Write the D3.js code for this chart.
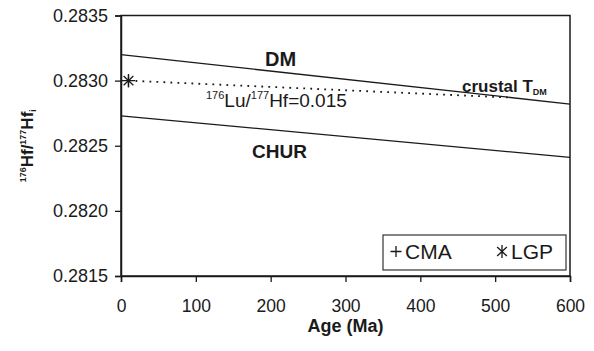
<!DOCTYPE html>
<html>
<head>
<meta charset="utf-8">
<script src="https://cdn.jsdelivr.net/npm/d3@7"></script>
<style>
  body { margin: 0; background: #fff; }
  svg { display: block; font-family: "Liberation Sans", Arial, sans-serif; }
</style>
</head>
<body>
<svg id="chart" width="594" height="351"></svg>
<script>
"use strict";

// values
const AGE_TICKS = [0, 100, 200, 300, 400, 500, 600];
const HF_TICKS = [0.2815, 0.2820, 0.2825, 0.2830, 0.2835];

const DM_AGE = [0, 600];
const DM_HF = [0.28320, 0.28282];
const CHUR_AGE = [0, 600];
const CHUR_HF = [0.28273, 0.28241];
const LUHF_AGE = [10, 520];        // 176Lu/177Hf = 0.015 growth line
const LUHF_HF = [0.28300, 0.28287];

const CMA_AGE = [10];
const CMA_HF = [0.28300];
const LGP_AGE = [10];
const LGP_HF = [0.28300];

const LEGEND_LABELS = ["CMA", "LGP"];

const MARGIN = { LEFT: 121, RIGHT: 570, TOP: 15.5, BOTTOM: 276 };
const INK = "#1a1a1a";

const svg = d3.select("#chart");

const x = d3.scaleLinear().domain([0, 600]).range([MARGIN.LEFT, MARGIN.RIGHT]);
const y = d3.scaleLinear().domain([0.2815, 0.2835]).range([MARGIN.BOTTOM, MARGIN.TOP]);

const toPoints = (ages, hfs) => ages.map((a, i) => [a, hfs[i]]);
const line = d3.line().x(d => x(d[0])).y(d => y(d[1]));

// frame
svg.append("rect")
  .attr("x", MARGIN.LEFT).attr("y", MARGIN.TOP)
  .attr("width", MARGIN.RIGHT - MARGIN.LEFT).attr("height", MARGIN.BOTTOM - MARGIN.TOP)
  .attr("fill", "none").attr("stroke", INK).attr("stroke-width", 1.5);

// axes
const xAxis = svg.append("g")
  .attr("transform", `translate(0,${MARGIN.BOTTOM})`)
  .call(d3.axisBottom(x).tickValues(AGE_TICKS).tickSize(6).tickPadding(18).tickFormat(d3.format("d")));
const yAxis = svg.append("g")
  .attr("transform", `translate(${MARGIN.LEFT},0)`)
  .call(d3.axisLeft(y).tickValues(HF_TICKS).tickSize(6).tickPadding(7).tickFormat(d3.format(".4f")));

[xAxis, yAxis].forEach(g => {
  g.select(".domain").attr("stroke", INK).attr("stroke-width", 1.5);
  g.selectAll(".tick line").attr("stroke", INK).attr("stroke-width", 1.3);
  g.selectAll(".tick text").attr("fill", INK).attr("font-size", 18)
    .attr("font-family", "Liberation Sans, Arial, sans-serif");
});
// put x tick labels on their baseline, as in the figure
xAxis.selectAll(".tick text").attr("dy", null).attr("y", 35.5).attr("font-size", 17.5);

// evolution lines
svg.append("path").datum(toPoints(DM_AGE, DM_HF))
  .attr("d", line).attr("fill", "none").attr("stroke", INK).attr("stroke-width", 1.3);
svg.append("path").datum(toPoints(CHUR_AGE, CHUR_HF))
  .attr("d", line).attr("fill", "none").attr("stroke", INK).attr("stroke-width", 1.3);
svg.append("path").datum(toPoints(LUHF_AGE, LUHF_HF))
  .attr("d", line).attr("fill", "none").attr("stroke", INK)
  .attr("stroke-width", 1.8).attr("stroke-dasharray", "1.8,5.2");

// markers
function plus(g, cx, cy, r) {
  g.append("path").attr("d", `M${cx - r},${cy}H${cx + r}M${cx},${cy - r}V${cy + r}`)
    .attr("stroke", INK).attr("stroke-width", 1.3).attr("fill", "none");
}
function asterisk(g, cx, cy, r) {
  const dx = r * 0.75, dy = r * 0.7;
  g.append("path")
    .attr("d", `M${cx},${cy - r}V${cy + r}M${cx - dx},${cy - dy}L${cx + dx},${cy + dy}M${cx - dx},${cy + dy}L${cx + dx},${cy - dy}`)
    .attr("stroke", INK).attr("stroke-width", 1.3).attr("fill", "none");
}

const marks = svg.append("g");
toPoints(CMA_AGE, CMA_HF).forEach(d => plus(marks, x(d[0]), y(d[1]), 6.5));
toPoints(LGP_AGE, LGP_HF).forEach(d => asterisk(marks, x(d[0]), y(d[1]), 6.5));

// line labels
svg.append("text").attr("x", 265).attr("y", 66)
  .attr("font-size", 20).attr("font-weight", "bold").attr("fill", INK).text("DM");
svg.append("text").attr("x", 252).attr("y", 158)
  .attr("font-size", 19).attr("font-weight", "bold").attr("fill", INK).text("CHUR");

const ratio = svg.append("text").attr("x", 206).attr("y", 107).attr("font-size", 19).attr("fill", INK);
ratio.append("tspan").attr("font-size", 11).attr("dy", -8).text("176");
ratio.append("tspan").attr("dy", 8).text("Lu/");
ratio.append("tspan").attr("font-size", 11).attr("dy", -8).text("177");
ratio.append("tspan").attr("dy", 8).text("Hf=0.015");

const tdm = svg.append("text").attr("x", 462).attr("y", 92)
  .attr("font-size", 17).attr("font-weight", "bold").attr("fill", INK);
tdm.append("tspan").text("crustal T");
tdm.append("tspan").attr("font-size", 9).attr("dy", 3).text("DM");

// axis titles
svg.append("text").attr("x", (MARGIN.LEFT + MARGIN.RIGHT) / 2).attr("y", 331.5)
  .attr("text-anchor", "middle").attr("font-size", 18).attr("font-weight", "bold")
  .attr("fill", INK).text("Age (Ma)");

const yTitle = svg.append("text")
  .attr("transform", `translate(33,${(MARGIN.TOP + MARGIN.BOTTOM) / 2}) rotate(-90)`)
  .attr("text-anchor", "middle").attr("font-size", 17).attr("font-weight", "bold").attr("fill", INK);
yTitle.append("tspan").attr("font-size", 9).attr("dy", -7).text("176");
yTitle.append("tspan").attr("dy", 7).text("Hf/");
yTitle.append("tspan").attr("font-size", 9).attr("dy", -7).text("177");
yTitle.append("tspan").attr("dy", 7).text("Hf");
yTitle.append("tspan").attr("font-size", 9).attr("dy", 3).text("i");

// legend
const legend = svg.append("g");
legend.append("rect").attr("x", 383).attr("y", 235).attr("width", 183).attr("height", 35)
  .attr("fill", "#fff").attr("stroke", "#333").attr("stroke-width", 1.2);
plus(legend, 396, 251.5, 5.5);
asterisk(legend, 502, 251.5, 6.5);
legend.append("text").attr("x", 405).attr("y", 258.5).attr("font-size", 21).attr("fill", INK)
  .text(LEGEND_LABELS[0]);
legend.append("text").attr("x", 511).attr("y", 258.5).attr("font-size", 21).attr("fill", INK)
  .text(LEGEND_LABELS[1]);
</script>
</body>
</html>
